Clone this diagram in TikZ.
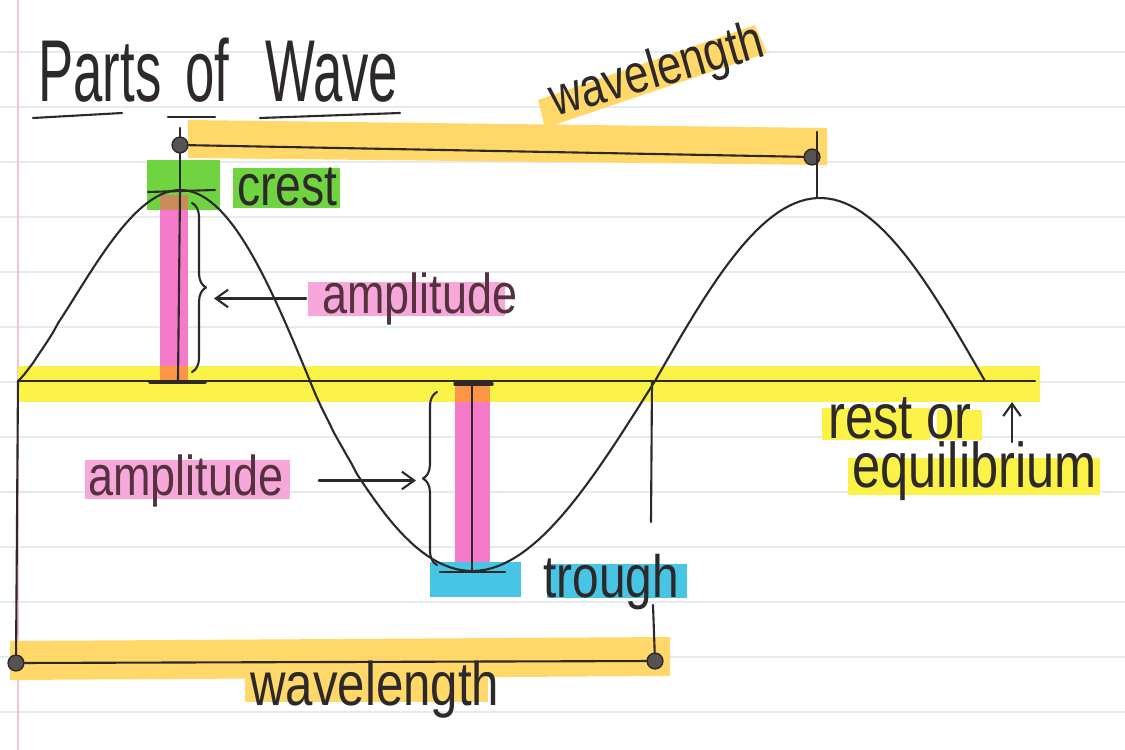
\documentclass[tikz,border=0pt]{standalone}
\usepackage{fontspec}
\newfontfamily\titlehand[FakeStretch=0.6]{Liberation Sans}
\newfontfamily\hand[FakeStretch=0.8]{Liberation Sans}
\usetikzlibrary{arrows.meta,decorations.pathreplacing}

\definecolor{inkcolor}{RGB}{45,40,42}
\definecolor{plumink}{RGB}{85,50,62}
\definecolor{ruledcolor}{RGB}{228,234,241}
\definecolor{margincolor}{RGB}{244,196,212}
\definecolor{resthl}{RGB}{250,242,70}
\definecolor{wavehl}{RGB}{255,216,105}
\definecolor{cresthl}{RGB}{112,212,64}
\definecolor{amphl}{RGB}{246,122,202}
\definecolor{amptexthl}{RGB}{247,168,218}
\definecolor{troughhl}{RGB}{72,196,228}
\definecolor{overlapA}{RGB}{250,150,70}
\definecolor{overlapB}{RGB}{200,140,90}

\begin{document}
\begin{tikzpicture}[x=0.02cm,y=-0.02cm,
  ink/.style={draw=inkcolor,line width=1.2pt,line cap=round,line join=round},
  inkdot/.style={circle,fill=inkcolor!80,draw=inkcolor,line width=0.8pt,minimum size=9pt,inner sep=0pt},
  handtext/.style={font=\hand\fontsize{#1}{#1}\selectfont,text=inkcolor,inner sep=0pt,anchor=base west},
  handtext/.default=34,
  titletext/.style={font=\titlehand\fontsize{50}{50}\selectfont,text=inkcolor,inner sep=0pt,anchor=base west},
  pointer/.style={ink,-{Straight Barb[length=7pt,width=10pt]}}]
  % Page
  \useasboundingbox[fill=white] (0,0) rectangle (1125,750);
  \foreach \ry in {52,107,...,712}
    \draw[ruledcolor,line width=0.8pt] (0,\ry) -- (1125,\ry);
  \draw[margincolor,line width=1pt] (18,0) -- (18,750);
  % Highlighters
  \fill[resthl] (18,366) rectangle (1040,402);
  \fill[wavehl] (188,120) -- (827,128) -- (827,165) -- (188,158) -- cycle;
  \fill[wavehl] (538,100) -- (755,25) -- (767,53) -- (545,128) -- cycle;
  \fill[wavehl] (10,641) -- (670,637) -- (670,676) -- (10,680) -- cycle;
  \fill[wavehl] (245,670) rectangle (488,702);
  \fill[cresthl] (147,160) rectangle (220,210);
  \fill[cresthl] (233,168) rectangle (340,208);
  \fill[amphl] (160,195) rectangle (188,382);
  \fill[amphl] (455,384) rectangle (490,568);
  \fill[overlapB] (160,195) rectangle (188,210);
  \fill[overlapA] (160,366) rectangle (188,382);
  \fill[overlapA] (455,384) rectangle (490,402);
  \fill[amptexthl] (308,282) rectangle (505,316);
  \fill[amptexthl] (85,460) rectangle (290,499);
  \fill[troughhl] (430,562) rectangle (521,597);
  \fill[troughhl] (547,564) rectangle (687,598);
  \fill[resthl] (822,408) rectangle (930,440);
  \fill[resthl] (937,410) rectangle (982,440);
  \fill[resthl] (848,458) rectangle (1100,495);
  % Title
  \node[titletext] at (38,102) (parts) {Parts};
  \node[titletext] at (185,102) (of) {of};
  \node[titletext] at (265,102) (wave) {Wave};
  \draw[ink] (33,118) -- (122,113);
  \draw[ink] (168,117) -- (215,117);
  \draw[ink] (260,118) -- (400,113);
  % Wave
  \draw[ink] plot[domain=18.5:310,samples=60] (\x,{381-191*sin(180*pow((\x-18)/292,1.18))})
    -- plot[domain=310.5:655,samples=60] (\x,{381+190*sin(180*pow((\x-310)/345,0.918))})
    -- plot[domain=655:985,samples=60] (\x,{381-183*sin(0.54545*(\x-655))});
  % Rest line
  \coordinate (restL) at (18,381);
  \coordinate (restR) at (1035,381);
  \coordinate (crossB) at (652,381);
  \draw[ink] (restL) -- (restR);
  % Wavelength (top)
  \node[inkdot] at (180,145) (wlTopL) {};
  \node[inkdot] at (812,157) (wlTopR) {};
  \coordinate (spikeTop) at (180,128);
  \coordinate (crestA) at (180,192);
  \draw[ink] (spikeTop) -- (wlTopL) -- (crestA);
  \draw[ink] (wlTopL) -- (wlTopR);
  \draw[ink] (817,132) -- (817,198);
  \node[handtext=31,rotate=16] at (555,117) (wlTopText) {wavelength};
  % Wavelength (bottom)
  \node[inkdot] at (16,663) (wlBotL) {};
  \node[inkdot] at (655,661) (wlBotR) {};
  \coordinate (gapTop) at (651,522);
  \coordinate (gapBot) at (653,605);
  \draw[ink] (restL) -- (wlBotL);
  \draw[ink] (crossB) -- (gapTop);
  \draw[ink] (gapBot) -- (wlBotR);
  \draw[ink] (wlBotL) -- (wlBotR);
  \node[handtext=35] at (250,705) (wlBotText) {wavelength};
  % Crest
  \draw[ink] (148,192) -- (215,190);
  \node[handtext=33] at (237,205) (crest) {crest};
  % Amplitude (crest side)
  \coordinate (ampBaseA) at (178,381);
  \draw[ink] (crestA) -- (ampBaseA);
  \draw[ink,line width=2pt] (150,382) -- (205,382);
  \draw[ink,decorate,decoration={brace,amplitude=8pt}] (192,203) -- (192,372);
  \coordinate (tipA) at (214,290);
  \node[handtext=32,text=plumink] at (322,313) (ampA) {amplitude};
  \draw[pointer] ([xshift=-9pt]ampA.west) -- (tipA|-ampA.west);
  % Amplitude (trough side)
  \coordinate (troughTop) at (472,384);
  \coordinate (troughBot) at (472,571);
  \draw[ink] (troughTop) -- (troughBot);
  \draw[ink,line width=2pt] (455,384) -- (492,384);
  \draw[ink] (440,572) -- (505,572);
  \draw[ink,decorate,decoration={brace,amplitude=8pt}] (437,565) -- (437,392);
  \coordinate (tipB) at (416,478);
  \node[handtext=32,text=plumink] at (88,495) (ampB) {amplitude};
  \draw[pointer] ([xshift=20pt]ampB.east) -- (tipB|-ampB.east);
  % Trough
  \node[handtext=34] at (543,597) (trough) {trough};
  % Rest or equilibrium
  \node[handtext=36] at (828,438) (restText) {rest or};
  \coordinate (restTail) at (1012,442);
  \coordinate (restHead) at (1012,402);
  \draw[pointer] (restTail) -- (restHead);
  \node[handtext=36] at (852,487) (equil) {equilibrium};
\end{tikzpicture}
\end{document}
